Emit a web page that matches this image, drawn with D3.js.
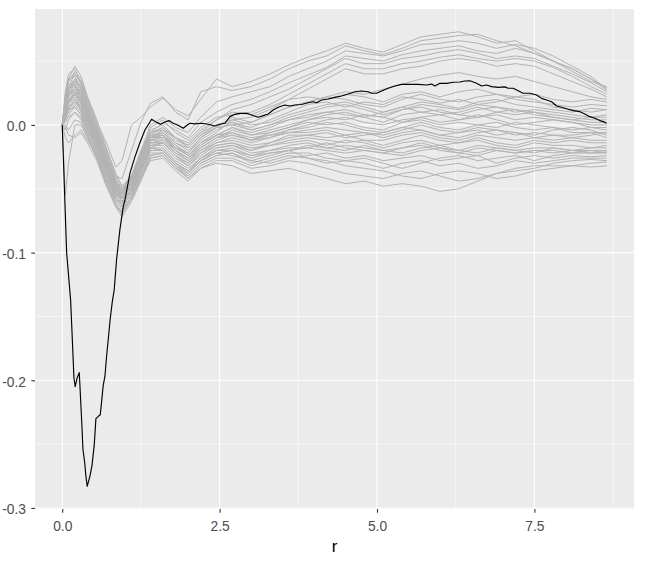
<!DOCTYPE html>
<html>
<head>
<meta charset="utf-8">
<script src="https://cdn.jsdelivr.net/npm/d3@7"></script>
<style>
  body { margin: 0; background: #fff; }
  svg { display: block; font-family: "Liberation Sans", Arial, sans-serif; }
</style>
</head>
<body>
<div id="chart"></div>
<script>
// r values shared by the simulated curves
const rGrid = [0, 0.05, 0.1, 0.2, 0.3, 0.4, 0.55, 0.7, 0.85, 0.95, 1.1, 1.25, 1.4, 1.6, 1.8, 2.0, 2.2, 2.45,
  2.7, 3.0, 3.3, 3.6, 3.9, 4.2, 4.5, 4.8, 5.1, 5.4, 5.7, 6.0, 6.3, 6.6, 6.9, 7.2, 7.5, 7.8, 8.1, 8.4, 8.65]

// simulated curves (grey), values x 1000
const simCurves = [
  [0,16,30,40,34,20,2,-14,-33,-28,0,6,14,21,12,7,20,36, 30,34,40,47,53,58,64,60,57,63,69,71,73,69,64,66,58,50,42,34,30],
  [0,20,36,46,38,22,0,-20,-40,-42,-20,2,17,22,10,4,26,30, 27,30,36,44,50,54,62,58,55,60,66,68,70,71,66,62,56,50,44,36,29],
  [0,10,24,34,30,16,-4,-26,-46,-54,-42,-22,0,6,-2,-6,6,18, 22,26,30,38,44,50,58,56,54,58,63,64,66,64,60,63,60,54,46,38,28],
  [0,14,26,32,24,10,-8,-28,-48,-56,-44,-26,-6,2,-4,-10,2,10, 16,20,26,33,39,45,54,52,50,55,58,60,62,58,56,60,56,50,44,36,27],
  [0,12,22,30,22,8,-10,-32,-50,-58,-46,-28,-10,-4,-10,-14,-4,4, 12,16,22,28,36,44,52,48,48,52,54,57,59,56,52,54,52,46,40,33,26],
  [0,18,28,36,28,12,-6,-28,-46,-52,-40,-20,-2,4,-6,-12,-2,6, 8,10,16,24,32,40,48,44,44,48,50,53,55,52,50,52,50,45,38,30,24],
  [0,8,18,26,18,6,-12,-32,-50,-56,-44,-26,-8,-2,-10,-16,-6,0, 4,6,12,20,28,36,44,40,40,44,46,50,52,50,46,48,46,40,34,28,22],
  [0,16,24,28,20,8,-8,-30,-48,-54,-40,-22,-4,0,-10,-18,-8,-2, 0,2,8,14,18,22,26,24,28,32,36,39,41,38,36,38,34,30,26,22,20],
  [0,20,34,42,36,22,4,-18,-38,-48,-40,-24,-6,-2,-12,-16,-6,4, 10,8,14,20,22,20,24,22,18,24,26,22,26,28,24,22,24,20,18,20,18],
  [0,12,24,30,26,14,-4,-24,-44,-52,-42,-26,-8,-6,-14,-20,-10,-2, 6,2,8,14,18,22,20,16,14,20,24,20,18,22,24,20,18,16,14,16,15],
  [0,22,36,38,28,12,-8,-28,-46,-54,-44,-28,-10,-8,-16,-22,-12,-4, 2,-2,4,10,16,18,14,18,16,22,20,17,20,16,18,22,20,14,12,10,12],
  [0,8,16,24,18,6,-12,-32,-50,-58,-48,-30,-12,-10,-18,-24,-14,-6, 4,0,2,8,12,16,18,14,10,14,18,16,13,18,20,16,14,12,10,13,12],
  [0,16,28,34,26,12,-6,-26,-44,-50,-40,-22,-6,-4,-14,-18,-8,0, 2,-4,0,6,10,14,16,12,8,12,16,14,12,16,14,10,12,10,8,6,8],
  [0,10,20,26,20,8,-10,-30,-48,-56,-46,-28,-10,-6,-16,-24,-16,-8, -2,-6,-2,4,8,10,12,8,6,12,14,10,8,12,14,12,10,6,4,6,6],
  [0,26,40,44,32,16,-4,-24,-44,-52,-40,-24,-8,-8,-18,-22,-10,-2, 0,-4,0,4,6,10,8,6,10,14,10,8,10,14,10,8,10,8,6,4,4],
  [0,6,14,20,14,2,-14,-34,-52,-60,-50,-32,-14,-12,-20,-28,-18,-10, -4,-8,-4,0,4,8,10,6,2,8,10,12,8,6,10,12,8,6,4,2,2],
  [0,14,22,28,22,10,-8,-28,-46,-54,-46,-30,-12,-8,-18,-24,-14,-8, -2,-8,-6,-2,4,6,4,8,6,2,6,8,4,6,8,4,6,4,2,0,0],
  [0,18,30,36,30,16,-2,-22,-42,-50,-42,-26,-10,-10,-20,-26,-16,-8, -6,-10,-8,-4,0,4,6,2,0,4,6,2,4,8,4,0,2,4,2,-2,-2],
  [0,4,12,18,12,0,-16,-36,-54,-60,-50,-34,-16,-14,-22,-28,-20,-12, -8,-12,-6,-2,2,0,2,-2,-4,2,4,0,2,0,-2,2,0,-2,-4,-2,-4],
  [0,10,18,24,18,6,-12,-32,-50,-56,-46,-28,-12,-12,-22,-28,-18,-10, -8,-12,-10,-4,-2,2,0,-4,-6,-2,2,-2,-4,0,2,-2,-4,-2,-6,-6,-6],
  [0,24,34,40,32,18,0,-20,-40,-48,-40,-26,-10,-8,-20,-26,-18,-10, -6,-12,-8,-6,-4,-2,-4,-6,-8,-4,0,-4,-6,-2,-4,-6,-8,-4,-2,-4,-8],
  [0,2,8,14,8,-4,-20,-40,-56,-62,-52,-34,-18,-14,-24,-30,-20,-14, -10,-14,-10,-6,-6,-4,-8,-6,-10,-6,-4,-8,-6,-4,-8,-6,-10,-8,-8,-6,-10],
  [0,14,20,24,16,4,-14,-34,-52,-58,-48,-32,-14,-14,-24,-32,-22,-14, -12,-16,-14,-8,-8,-10,-8,-12,-12,-8,-6,-10,-12,-8,-10,-12,-10,-12,-10,-12,-12],
  [0,8,14,18,12,0,-18,-36,-54,-60,-50,-32,-16,-16,-26,-32,-24,-16, -14,-18,-16,-12,-10,-12,-14,-12,-16,-12,-8,-12,-14,-10,-14,-16,-12,-14,-12,-14,-14],
  [0,20,28,32,22,8,-10,-30,-48,-54,-44,-28,-14,-14,-24,-30,-22,-16, -14,-20,-16,-14,-12,-16,-12,-14,-18,-14,-12,-16,-14,-12,-16,-18,-14,-16,-16,-18,-16],
  [0,-4,4,10,6,-6,-22,-42,-58,-64,-54,-36,-18,-18,-28,-34,-26,-18, -16,-22,-20,-16,-14,-18,-16,-18,-20,-18,-14,-18,-20,-16,-18,-20,-18,-18,-20,-18,-18],
  [0,12,18,22,14,2,-16,-36,-54,-60,-50,-34,-18,-20,-30,-36,-28,-20, -18,-24,-20,-18,-18,-14,-18,-20,-22,-18,-16,-20,-22,-18,-20,-22,-20,-22,-20,-20,-20],
  [0,6,10,16,10,-2,-18,-38,-56,-62,-52,-36,-20,-20,-30,-38,-28,-22, -20,-26,-22,-20,-16,-18,-20,-16,-20,-22,-18,-16,-20,-22,-18,-20,-22,-18,-20,-22,-21],
  [0,18,24,26,18,4,-14,-34,-52,-58,-48,-32,-18,-20,-30,-36,-26,-18, -16,-20,-14,-10,-8,-6,-10,-8,-6,-2,-4,-8,-10,-6,-4,-8,-6,-8,-10,-8,-6],
  [0,0,-4,4,2,-8,-24,-44,-60,-66,-56,-40,-24,-22,-32,-40,-30,-24, -22,-28,-24,-20,-18,-20,-22,-20,-22,-24,-20,-18,-22,-24,-20,-22,-20,-20,-22,-20,-22],
  [0,-55,-30,0,0,-10,-26,-46,-62,-70,-58,-42,-28,-26,-36,-44,-34,-30, -32,-38,-36,-34,-38,-42,-46,-44,-48,-46,-48,-52,-50,-44,-38,-34,-32,-32,-32,-33,-32],
  [0,10,12,14,8,-6,-24,-46,-64,-72,-60,-44,-26,-24,-34,-42,-34,-28, -28,-34,-32,-28,-30,-34,-38,-40,-42,-38,-36,-40,-44,-42,-38,-36,-34,-30,-28,-27,-28],
  [0,-2,-8,-10,-6,-14,-28,-48,-64,-68,-56,-40,-24,-22,-32,-42,-32,-26, -26,-32,-28,-24,-26,-28,-32,-34,-36,-40,-42,-38,-36,-38,-42,-40,-36,-34,-32,-30,-29],
  [0,4,6,10,4,-10,-26,-46,-62,-68,-58,-42,-26,-24,-34,-40,-30,-24, -22,-30,-26,-22,-22,-26,-28,-30,-34,-30,-28,-32,-30,-34,-32,-28,-30,-28,-26,-26,-26],
  [0,14,18,20,12,-2,-20,-40,-58,-64,-54,-38,-22,-22,-32,-38,-28,-22, -24,-28,-30,-26,-24,-22,-26,-24,-28,-26,-24,-28,-26,-24,-30,-26,-24,-26,-24,-25,-24],
  [0,-10,-14,-8,-4,-12,-24,-42,-58,-62,-52,-36,-20,-20,-30,-36,-26,-20, -20,-24,-22,-20,-26,-30,-28,-26,-30,-34,-30,-26,-24,-28,-26,-24,-28,-24,-22,-22,-22]
]

// observed curve (black)
const obsR = [0, 0.070, 0.133, 0.149, 0.175, 0.186, 0.206, 0.238, 0.270, 0.276,
  0.297, 0.313, 0.329, 0.356, 0.376, 0.397, 0.440, 0.472, 0.508, 0.535,
  0.578, 0.604, 0.619, 0.651, 0.678, 0.705, 0.731, 0.762, 0.794, 0.826,
  0.864, 0.916, 0.969, 0.996, 1.075, 1.155, 1.234, 1.314, 1.420, 1.499,
  1.563, 1.631, 1.695, 1.763, 1.842, 1.922, 1.976, 2.028, 2.108, 2.214,
  2.319, 2.425, 2.505, 2.584, 2.664, 2.743, 2.823, 2.929, 3.008, 3.113,
  3.193, 3.272, 3.351, 3.431, 3.537, 3.617, 3.696, 3.802, 3.907, 3.987,
  4.041, 4.120, 4.225, 4.331, 4.438, 4.543, 4.649, 4.755, 4.860, 4.914,
  4.994, 5.046, 5.178, 5.284, 5.391, 5.523, 5.654, 5.788, 5.867, 5.920,
  5.999, 6.105, 6.210, 6.317, 6.396, 6.476, 6.582, 6.661, 6.741, 6.820,
  6.925, 7.031, 7.084, 7.163, 7.243, 7.322, 7.428, 7.535, 7.614, 7.694,
  7.773, 7.853, 7.932, 8.037, 8.116, 8.223, 8.302, 8.381, 8.461, 8.540,
  8.593, 8.647]
const obsK = [0, -0.100, -0.137, -0.155, -0.185, -0.198, -0.205, -0.198, -0.194, -0.199,
  -0.220, -0.236, -0.254, -0.264, -0.275, -0.283, -0.275, -0.267, -0.251, -0.230,
  -0.228, -0.227, -0.220, -0.204, -0.197, -0.181, -0.168, -0.152, -0.139, -0.129,
  -0.105, -0.082, -0.064, -0.059, -0.038, -0.025, -0.014, -0.004, 0.0045, 0.002,
  0.0005, 0.0023, 0.0034, 0.0013, -0.0003, -0.0026, -0.0005, 0.0013, 0.0008, 0.0013,
  0.0005, -0.0008, 0.0005, 0.0013, 0.0065, 0.0083, 0.0091, 0.0091, 0.0078, 0.006,
  0.0073, 0.0086, 0.0117, 0.0138, 0.0156, 0.0148, 0.0156, 0.016, 0.0174, 0.0182,
  0.0174, 0.0195, 0.0203, 0.0216, 0.0227, 0.0242, 0.026, 0.0266, 0.026, 0.0248,
  0.0248, 0.026, 0.0287, 0.0305, 0.0318, 0.0318, 0.0318, 0.0313, 0.032, 0.0305,
  0.0326, 0.0326, 0.0334, 0.0336, 0.0344, 0.0346, 0.0326, 0.0305, 0.0313, 0.030,
  0.0294, 0.0298, 0.0287, 0.0287, 0.0268, 0.0248, 0.0248, 0.0234, 0.0208, 0.0195,
  0.0182, 0.0148, 0.0138, 0.0123, 0.0112, 0.0104, 0.0086, 0.0065, 0.0052, 0.0034,
  0.0026, 0.0013]

const xTicks = [0, 2.5, 5, 7.5]
const xMinor = [1.25, 3.75, 6.25, 8.75]
const yTicks = [-0.3, -0.2, -0.1, 0]
const yMinor = [-0.25, -0.15, -0.05, 0.05]
const xTitle = "r"

const width = 657, height = 565
const panel = {left: 35, right: 634, top: 9, bottom: 509}

const sims = simCurves.map(c => c.map((v, i) => ({r: rGrid[i], k: v / 1000})))
const obs = obsR.map((r, i) => ({r: r, k: obsK[i]}))

// ggplot-style 5% expansion
function expand(ext) {
    let pad = (ext[1] - ext[0]) * 0.05
    return [ext[0] - pad, ext[1] + pad]
}
let allK = obsK.concat(...sims.map(s => s.map(d => d.k)))

let x = d3.scaleLinear()
    .domain(expand(d3.extent(obsR.concat(rGrid))))
    .range([panel.left, panel.right])
let y = d3.scaleLinear()
    .domain(expand(d3.extent(allK)))
    .range([panel.bottom, panel.top])

let svg = d3.select("#chart").append("svg")
    .attr("width", width)
    .attr("height", height)

svg.append("rect")
    .attr("x", panel.left).attr("y", panel.top)
    .attr("width", panel.right - panel.left)
    .attr("height", panel.bottom - panel.top)
    .attr("fill", "#EBEBEB")

let grid = svg.append("g")
grid.selectAll(".vminor").data(xMinor).enter().append("line")
    .attr("x1", d => x(d)).attr("x2", d => x(d))
    .attr("y1", panel.top).attr("y2", panel.bottom)
    .attr("stroke", "#fff").attr("stroke-width", 0.55)
grid.selectAll(".hminor").data(yMinor).enter().append("line")
    .attr("y1", d => y(d)).attr("y2", d => y(d))
    .attr("x1", panel.left).attr("x2", panel.right)
    .attr("stroke", "#fff").attr("stroke-width", 0.55)
grid.selectAll(".vmajor").data(xTicks).enter().append("line")
    .attr("x1", d => x(d)).attr("x2", d => x(d))
    .attr("y1", panel.top).attr("y2", panel.bottom)
    .attr("stroke", "#fff").attr("stroke-width", 1.1)
grid.selectAll(".hmajor").data(yTicks).enter().append("line")
    .attr("y1", d => y(d)).attr("y2", d => y(d))
    .attr("x1", panel.left).attr("x2", panel.right)
    .attr("stroke", "#fff").attr("stroke-width", 1.1)

svg.append("clipPath").attr("id", "clip")
    .append("rect")
    .attr("x", panel.left).attr("y", panel.top)
    .attr("width", panel.right - panel.left)
    .attr("height", panel.bottom - panel.top)

let plot = svg.append("g").attr("clip-path", "url(#clip)")

let line = d3.line()
    .x(d => x(d.r))
    .y(d => y(d.k))

plot.selectAll(".sim")
    .data(sims)
    .enter().append("path")
    .attr("class", "sim")
    .attr("d", line)
    .attr("fill", "none")
    .attr("stroke", "#B3B3B3")
    .attr("stroke-width", 1)
    .attr("stroke-linejoin", "round")

plot.append("path")
    .datum(obs)
    .attr("d", line)
    .attr("fill", "none")
    .attr("stroke", "#000")
    .attr("stroke-width", 1.15)
    .attr("stroke-linejoin", "round")

let fmt = d => d.toFixed(1)

let xAxis = svg.append("g")
    .attr("transform", `translate(0, ${panel.bottom})`)
    .call(d3.axisBottom(x).tickValues(xTicks).tickFormat(fmt).tickSize(3.7).tickPadding(8.5))
let yAxis = svg.append("g")
    .attr("transform", `translate(${panel.left}, 0)`)
    .call(d3.axisLeft(y).tickValues(yTicks).tickFormat(fmt).tickSize(3.7).tickPadding(5.3))

for (let ax of [xAxis, yAxis]) {
    ax.select(".domain").remove()
    ax.selectAll(".tick line").attr("stroke", "#333333").attr("stroke-width", 1.1)
    ax.selectAll(".tick text")
        .attr("fill", "#4D4D4D")
        .style("font-size", "13.8px")
        .style("font-family", '"Liberation Sans", Arial, sans-serif')
}
yAxis.selectAll(".tick text").attr("dy", "0.42em")

svg.append("text")
    .attr("x", (panel.left + panel.right) / 2)
    .attr("y", 551.5)
    .attr("text-anchor", "middle")
    .style("font-size", "17px")
    .attr("fill", "#000")
    .text(xTitle)
</script>
</body>
</html>
